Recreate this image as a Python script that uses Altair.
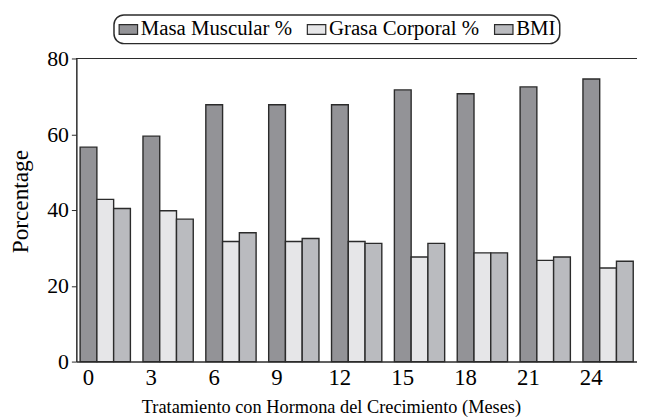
import altair as alt
import pandas as pd

months = ["0", "3", "6", "9", "12", "15", "18", "21", "24"]
series = ["Masa Muscular %", "Grasa Corporal %", "BMI"]
masa = [56.6, 59.5, 67.8, 67.8, 67.8, 71.7, 70.7, 72.5, 74.6]
grasa = [42.8, 39.8, 31.7, 31.7, 31.7, 27.6, 28.7, 26.7, 24.7]
bmi = [40.4, 37.6, 34.0, 32.5, 31.2, 31.2, 28.7, 27.6, 26.5]
colors = ["#939397", "#e6e6e8", "#babbbf"]

rows = []
for i, m in enumerate(months):
    for s, vals in zip(series, [masa, grasa, bmi]):
        rows.append({"mes": m, "serie": s, "valor": vals[i]})
df = pd.DataFrame(rows)

FONT = "Liberation Serif"

bars = alt.Chart(df).mark_bar(stroke="#2b2b2b", strokeWidth=1.4).encode(
    x=alt.X("mes:N", sort=months,
            scale=alt.Scale(paddingInner=0.2, paddingOuter=0.06),
            axis=alt.Axis(title="Tratamiento con Hormona del Crecimiento (Meses)",
                          labelAngle=0, ticks=False, labelOffset=-17,
                          labelFontSize=23, titleFontSize=18.5, labelPadding=5,
                          titleX=257, titleY=36, titleBaseline="top",
                          domainColor="#2b2b2b", domainWidth=1.5,
                          labelColor="black", titleColor="black",
                          labelFont=FONT, titleFont=FONT, titleFontWeight="normal")),
    xOffset=alt.XOffset("serie:N", sort=series, scale=alt.Scale(paddingInner=0, paddingOuter=0)),
    y=alt.Y("valor:Q", scale=alt.Scale(domain=[0, 80]),
            axis=alt.Axis(title="Porcentage", values=[0, 20, 40, 60, 80], grid=False,
                          tickSize=5, tickColor="#2b2b2b", labelPadding=3,
                          labelFontSize=22, titleFontSize=23.5, titlePadding=14,
                          titleY=144,
                          domainColor="#2b2b2b", domainWidth=1.5,
                          labelColor="black", titleColor="black",
                          labelFont=FONT, titleFont=FONT, titleFontWeight="normal")),
    color=alt.Color("serie:N", sort=series,
                    scale=alt.Scale(domain=series, range=colors),
                    legend=alt.Legend(title=None, orient="none", direction="horizontal",
                                      columns=3, legendX=38, legendY=-44,
                                      strokeColor="#2b2b2b",
                                      padding=4,
                                      symbolType="M-1,-0.52H1V0.52H-1Z", symbolSize=346,
                                      symbolStrokeColor="#2b2b2b", symbolStrokeWidth=1.2,
                                      symbolOpacity=1,
                                      labelFont=FONT, labelFontSize=21, labelColor="black",
                                      labelOffset=2, columnPadding=12)),
)

top = alt.Chart(df).mark_rule(color="#2b2b2b", strokeWidth=1.2).encode(y=alt.datum(80))

chart = alt.layer(bars, top).properties(
    width=566, height=306,
    padding={"left": 69, "top": 49, "right": 0, "bottom": 56},
    autosize=alt.AutoSizeParams(type="none"),
).configure(font=FONT).configure_view(stroke=None).configure_legend(strokeWidth=1.5, cornerRadius=10)

chart.save("out.html", embed_options={"renderer": "svg", "actions": False})
